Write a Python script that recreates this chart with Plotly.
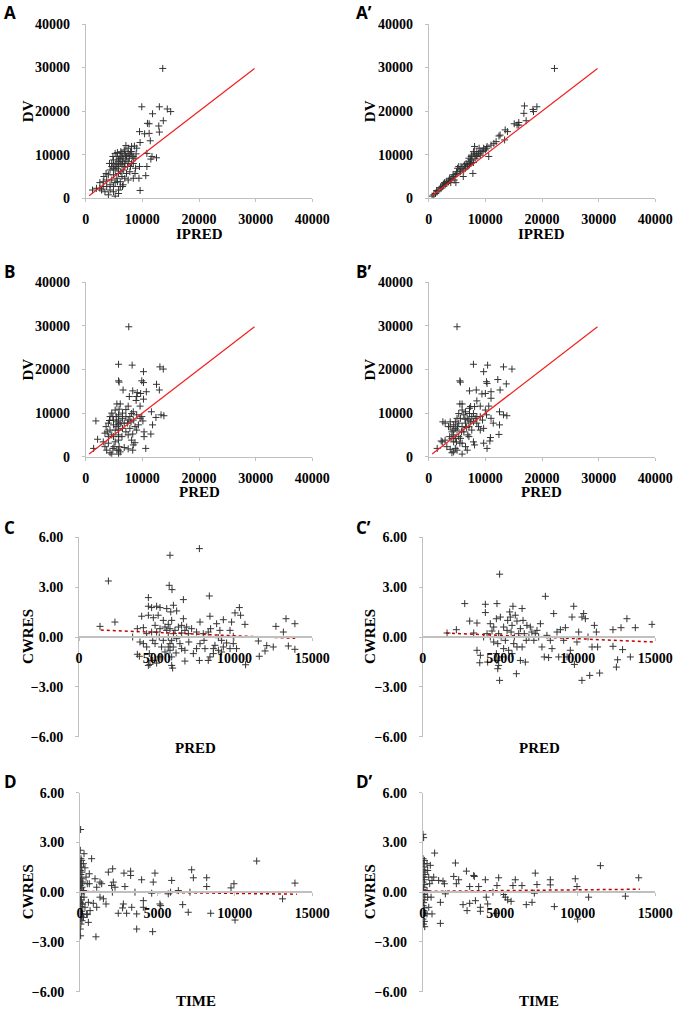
import plotly.graph_objects as go

W, H = 675, 1009

# ---------------- data ----------------
# Panel A: DV vs IPRED
A_ipred = [13600, 9900, 13000, 14400, 15000, 11800, 13700, 10900, 11200, 12900,
           13000, 9500, 10400, 11200, 11400, 9600, 8600, 9000, 7100, 8100,
           10800, 11700, 11500, 12500, 10800, 10600, 9600, 9400, 9500, 8700,
           8100, 8400, 7500, 6800, 6400, 6100, 5500, 4900, 5800, 6600,
           7200, 7800, 8100, 7500, 6900, 6100, 5200, 4600, 4300, 5200,
           5800, 6400, 6900, 7500, 6600, 7200, 7800, 5800, 4900, 4000,
           3700, 4600, 5500, 6100, 5200, 4300, 3100, 2500, 2800, 3400,
           1900, 1200, 4000, 4900, 5200, 5800, 6100, 6600, 4300, 3700,
           6400, 6900, 5200, 4600, 5500, 6200, 6800, 7400, 7900, 8400,
           7700, 7100, 6500, 5900, 5500, 4900, 5600, 4900, 3100, 2500,
           8700, 8900, 7900, 6200, 5600, 4800, 4200, 3600, 3200, 5800,
           6400, 7000, 8200, 8800, 8400, 7500, 6500, 5800]
A_dv = [29800, 21000, 21000, 20500, 19900, 19400, 17800, 17200, 17100, 16600,
        15200, 15300, 14800, 14900, 13200, 12800, 12000, 11500, 12100, 11900,
        10300, 9600, 9000, 9300, 7300, 5200, 1800, 4600, 7300, 5700,
        8000, 9600, 10300, 11100, 10300, 9600, 9600, 8800, 8800, 9200,
        9600, 9900, 10700, 11500, 10700, 8000, 7700, 7300, 6500, 6500,
        7300, 7700, 8000, 8400, 6500, 5700, 6100, 5700, 5400, 5400,
        4200, 4200, 4600, 3800, 3600, 3100, 3800, 3600, 1900, 1500,
        2300, 1900, 800, 1500, 500, 1900, 2700, 3100, 1900, 2700,
        5000, 4600, 10300, 8000, 6900, 6100, 7300, 7300, 7300, 8000,
        9200, 8800, 8400, 9200, 8000, 6900, 3800, 2700, 2700, 2300,
        9200, 10200, 10700, 10700, 10500, 9600, 8000, 5700, 5000, 8400,
        9600, 9900, 9600, 6900, 4600, 4200, 2700, 1100]

# Panel A': DV vs IPRED (final model)
A2_ipred = [22200, 16900, 16800, 18400, 19100, 18500, 17200, 15900, 15600, 15100,
            15900, 13500, 13900, 12600, 12400, 13400, 11900, 11000, 10300, 10600,
            9700, 10000, 9100, 8800, 7900, 8500, 9100, 8200, 7600, 7400,
            7100, 6800, 7800, 6500, 6200, 5900, 6100, 5600, 5000, 5100,
            4700, 4400, 4800, 4100, 3800, 3500, 3200, 2900, 2500, 2200,
            1800, 1500, 1200, 900, 600, 8500, 8400, 7400, 7100, 8100,
            7500, 6600, 6300, 5700, 5500, 4900, 4300, 3700, 3100, 2600,
            2400, 2100, 1400, 7600, 9600, 10200, 11500, 6900, 5300, 4500,
            3900, 3600, 2800, 8100, 8900, 9400, 7200, 7900]
A2_dv = [29800, 21200, 19500, 20400, 21000, 19900, 17800, 17400, 16800, 17100,
         16800, 15700, 15300, 14500, 14300, 13400, 13000, 12200, 11900, 9600,
         11500, 11100, 10700, 10300, 10700, 9600, 9900, 9200, 8800, 8000,
         8400, 7700, 5700, 6900, 6500, 6900, 5000, 6100, 5700, 6900,
         5400, 5000, 3600, 4600, 4200, 3800, 3400, 3100, 2700, 2300,
         1900, 1500, 1100, 800, 500, 10700, 9900, 8800, 9200, 10200,
         9600, 8000, 7700, 7300, 6500, 6100, 5400, 4600, 3800, 3300,
         2800, 2500, 1800, 9900, 10900, 11500, 12600, 7300, 7300, 4200,
         3600, 4200, 3600, 11900, 11500, 10700, 7700, 8200]

# Panel B: DV vs PRED
B_pred = [7600, 5800, 8200, 13100, 13700, 10200, 5800, 5900, 9900, 10200,
          12500, 13000, 6600, 8300, 9100, 9700, 10700, 9000, 10200, 8900,
          7700, 5500, 6100, 7500, 9600, 11600, 13300, 13800, 12400, 11800,
          10300, 10300, 11500, 10600, 1800, 2100, 1400, 3100, 3400, 3700,
          4300, 4600, 5800, 5900, 5800, 5800, 5800, 5800, 5800, 5800,
          5900, 5200, 4600, 4300, 4900, 4000, 3600, 4300, 3400, 4000,
          4900, 5200, 5200, 4900, 6500, 6800, 6500, 6400, 6800, 7500,
          8300, 8400, 8700, 8100, 7500, 7800, 8100, 8400, 9000, 8700,
          9000, 9300, 9600, 9900, 10100, 7100, 7800, 7100, 6500, 7100,
          6200, 5500, 5400, 4800, 4200, 3800, 4600, 5000, 5500, 6100,
          4800, 4000, 7400, 8000, 8400, 7500, 8300, 5800, 5800, 5800,
          5800, 5500]
B_dv = [29800, 21200, 21000, 20600, 20100, 19500, 17400, 17100, 17400, 17000,
        16600, 15300, 15300, 15100, 14700, 14500, 14900, 13800, 13200, 12900,
        13800, 12100, 12100, 11600, 11600, 10300, 9600, 9400, 9000, 7300,
        5700, 4600, 5200, 1900, 8200, 4000, 1900, 3400, 2300, 1500,
        900, 600, 600, 2300, 3800, 5000, 6100, 7300, 8400, 9600,
        10900, 10700, 10000, 9200, 8400, 7700, 6900, 6100, 5400, 4600,
        4600, 3400, 6100, 7300, 8800, 7700, 6500, 4600, 2100, 1800,
        1500, 2700, 3200, 3800, 8400, 9200, 9900, 10300, 9600, 6900,
        6100, 7300, 8800, 9200, 8200, 5700, 6500, 9200, 10000, 10800,
        7700, 6900, 9200, 9200, 8300, 5700, 5000, 2300, 1500, 1100,
        1900, 3100, 7700, 8000, 8400, 5000, 5200, 9200, 7700, 4600,
        1500, 8000]

# Panel B': DV vs PRED (final model)
B2_pred = [5000, 7900, 10400, 13200, 14700, 9700, 5500, 5600, 10200, 10300,
           12200, 13700, 7200, 8400, 9400, 10000, 11000, 12600, 11000, 8500,
           5500, 5900, 7400, 9100, 10600, 12500, 13200, 13800, 10000, 10200,
           11000, 11400, 12500, 12400, 10900, 10800, 10300, 9700, 8100, 7900,
           6900, 6800, 6500, 5900, 4400, 4700, 5000, 4100, 3800, 3200,
           2900, 2400, 1500, 2200, 2500, 2900, 3800, 4400, 4100, 3700,
           4400, 4700, 4100, 4900, 5300, 5000, 4700, 5300, 5600, 5300,
           5900, 6200, 6500, 6800, 6500, 5900, 6200, 7100, 7400, 7600,
           7200, 7900, 8200, 8500, 8800, 9100, 9700, 7600, 7100, 5600,
           5500, 5900, 4400, 3500, 4700, 5000, 3800, 7900, 8500, 9100,
           9500, 7100, 6700, 6400, 5800, 5100, 4300, 7200, 8100]
B2_dv = [29800, 21200, 21000, 20600, 20100, 19500, 17400, 17100, 17200, 16800,
         17700, 16700, 15100, 15300, 14400, 14500, 14900, 15300, 13400, 12800,
         12100, 12100, 11500, 11600, 11600, 10300, 9600, 9400, 10700, 9600,
         8800, 7700, 7300, 5100, 4400, 3600, 1900, 3100, 2700, 3400,
         5000, 1500, 2300, 600, 1100, 1900, 1500, 900, 1700, 2300,
         3800, 3400, 1900, 3600, 8000, 7700, 6900, 7300, 5700, 4600,
         5000, 4200, 4200, 3400, 4600, 6100, 6500, 7700, 8800, 9900,
         10700, 9600, 10300, 8800, 7700, 6900, 5700, 6900, 8000, 9200,
         9900, 9900, 8800, 7700, 6900, 6100, 6500, 6100, 4600, 4200,
         3100, 3100, 3400, 6900, 8000, 8800, 8000, 8000, 9200, 9200,
         8400, 8400, 6700, 8600, 5700, 6900, 6100, 11100, 11500]

# Panel C: CWRES vs PRED
C_pred = [1350, 1890, 2310, 7740, 5850, 5800, 5980, 6710, 8380, 4460,
          4460, 4670, 4990, 5210, 5640, 6070, 5900, 6280, 4030, 4460,
          4780, 5090, 5420, 5960, 6710, 6600, 6920, 7780, 8420, 8850,
          9280, 9810, 10310, 10390, 10030, 10670, 9060, 9710, 12660, 13140,
          13310, 13880, 11530, 12070, 12490, 13460, 13880, 11590, 11960, 10710,
          10130, 9920, 9490, 9280, 8960, 8740, 8420, 8310, 8640, 8100,
          7780, 7740, 7350, 6810, 6810, 6490, 6280, 6060, 5960, 5960,
          6020, 5850, 5850, 5740, 5640, 5420, 5310, 5210, 4990, 4740,
          4560, 4460, 4520, 4350, 4140, 3920, 3880, 3750, 3450, 3750,
          4140, 4350, 4670, 4890, 4990, 5210, 5530, 5740, 5850, 6170,
          6390, 6600, 6810, 7030, 7240, 7560, 7990, 8310, 8460, 8960,
          9170, 9920, 5160, 4890, 5530, 6240, 6600, 7060, 7560, 8040,
          8640, 9170, 9710, 4740, 5740, 5960, 6070]
C_cwres = [0.64, 3.37, 0.90, 5.32, 4.92, 3.11, 2.85, 2.25, 2.47, 2.37,
           1.85, 1.77, 1.85, 1.77, 1.71, 1.91, 1.51, 1.57, 1.25, 1.31,
           1.16, 1.31, 1.00, 1.00, 1.10, 0.70, 0.60, 0.90, 1.25, 0.80,
           1.04, 0.90, 1.77, 1.31, 1.45, 0.76, 0.40, 0.40, 0.64, 0.30,
           1.10, 0.80, -0.24, -0.52, -0.60, -0.54, -0.74, -1.16, -0.84, -1.67,
           -0.70, -0.40, -0.36, -0.60, -0.80, -0.50, -1.20, -1.41, -1.00, -0.70,
           -0.40, -1.41, -1.00, -1.45, -0.80, -0.40, -0.10, -0.60, -1.20, -1.71,
           -1.87, -0.40, -0.80, 0.00, 0.40, -0.20, -0.60, -1.20, -1.57, -1.41,
           -1.65, -1.71, -1.00, -0.60, -0.40, -0.30, -1.16, -1.04, 0.00, 0.50,
           0.56, 0.20, 0.30, 0.70, 0.30, 0.50, 0.60, 0.76, 0.50, 0.40,
           0.60, 0.24, 0.40, 0.20, 0.50, 0.30, 0.20, 0.30, 0.50, -0.04,
           -0.20, 0.04, 0.00, -0.40, -0.90, -0.96, -0.70, -0.30, -0.70, -0.20,
           -0.70, -0.90, -0.70, -0.20, -0.60, -0.20, 0.20]

# Panel C': CWRES vs PRED (final model)
C2_pred = [1570, 2170, 2710, 3030, 3290, 3500, 4040, 4040, 3500, 3680,
           3720, 3930, 4150, 4190, 4360, 4580, 4790, 4960, 4750, 5010,
           4900, 4840, 4750, 4790, 4900, 4840, 4960, 5120, 5220, 5330,
           5440, 5610, 5650, 5820, 5760, 5970, 6080, 6040, 5870, 6080,
           6190, 6300, 6410, 6470, 6300, 6620, 6680, 6720, 6940, 7260,
           7370, 7590, 7910, 7690, 7840, 8120, 8340, 8450, 8660, 8880,
           8770, 9200, 9310, 9520, 9630, 9740, 9780, 9950, 10060, 10270,
           10380, 10270, 10490, 10660, 10770, 10920, 11070, 11200, 11280, 11410,
           12270, 12270, 12490, 12570, 12790, 12890, 13170, 13390, 13710, 14790,
           5220, 5480, 5700, 5910, 6550, 6850, 7170, 4360, 4580, 5050,
           5540, 5760, 6410, 7040, 7480, 8010, 8230, 9090, 4470]
C2_cwres = [0.24, 0.44, 2.01, 0.96, 0.24, 0.84, 1.97, 1.47, -0.80, -1.55,
            -1.10, 0.00, 0.20, -1.51, 0.80, 0.60, 2.01, 3.78, 1.10, 1.20,
            0.20, -0.40, -1.00, -1.41, -1.71, -1.91, -2.61, -1.20, -0.70, -0.20,
            0.40, 1.51, 1.20, 1.85, 0.70, 1.31, 0.96, -2.21, -0.40, -0.60,
            0.20, 0.50, 1.71, 1.00, -1.41, -1.51, -0.20, 0.70, 0.60, 0.20,
            0.40, 0.80, 2.45, -0.60, -1.20, -1.24, -0.70, 1.41, 0.30, 0.44,
            -1.20, 0.56, -1.20, -0.80, 1.20, 1.85, -1.65, -0.30, 0.30, 1.20,
            1.41, -2.61, 1.10, 0.00, -2.31, -0.60, 0.70, 0.30, -0.60, -2.17,
            -0.56, 0.44, -1.81, -1.37, 0.56, -0.76, 1.10, -1.20, 0.56, 0.76,
            0.60, 1.00, 0.30, 0.00, 0.20, 0.00, -0.20, 0.00, -0.30, -0.04,
            -0.80, -1.00, -0.60, 0.30, 0.00, 0.10, -0.20, -0.20, 0.36]

# Panel D: CWRES vs TIME
D_time = [40, 20, 60, 110, 40, 90, 20, 130, 60, 0,
          110, 40, 90, 20, 130, 60, 0, 110, 40, 90,
          20, 130, 60, 0, 110, 40, 90, 20, 130, 60,
          20, 40, 320, 390, 470, 540, 430, 540, 320, 220,
          260, 170, 220, 170, 220, 260, 750, 600, 970, 600,
          1080, 860, 470, 1030, 1290, 1290, 1400, 1510, 1830, 2110,
          2150, 2040, 2260, 2090, 2470, 2800, 2750, 2840, 2900, 3010,
          3270, 3270, 3340, 3550, 3660, 3660, 3980, 4090, 4090, 4630,
          4730, 4840, 4690, 5160, 5210, 5700, 5850, 5920, 6350, 6630,
          6990, 7100, 7210, 7320, 8180, 8180, 8440, 9750, 9940, 10010,
          11410, 13080, 13880, 1680, 1080, 650]
D_cwres = [3.78, 2.53, 2.02, 1.92, 1.72, 1.52, 1.31, 1.21, 1.07, 0.91,
           0.81, 0.67, 0.51, 0.40, 0.30, 0.20, 0.10, -0.10, -0.30, -0.46,
           -0.61, -0.71, -0.87, -1.01, -1.15, -1.31, -1.45, -1.62, -1.72, -1.92,
           -2.22, -2.63, 1.47, 0.91, 0.51, -0.61, -1.31, -1.82, -0.91, 0.10,
           -0.30, -0.71, -1.52, 0.61, 1.72, 2.32, 2.02, 1.11, 0.81, 0.51,
           0.30, -0.67, -1.35, -2.69, 0.61, -0.30, 0.51, -0.40, 1.21, 1.41,
           0.61, 0.40, 0.30, 0.00, -1.27, -0.71, -0.95, 1.15, 0.34, -1.27,
           1.27, 1.01, -0.91, 0.00, -1.31, -2.22, 0.75, -0.51, -0.91, -0.06,
           0.61, 1.15, -2.38, -0.71, -0.81, -0.10, 0.00, 0.71, 0.10, -0.75,
           -1.21, 0.00, 1.35, 0.87, 0.87, 0.34, -1.27, 0.26, 0.51, -1.68,
           1.88, -0.40, 0.55, -0.71, -0.91, -1.11]

# Panel D': CWRES vs TIME (final model)
D2_time = [20, 60, 20, 110, 40, 130, 20, 90, 150, 40,
           110, 20, 130, 60, 20, 150, 90, 20, 130, 60,
           20, 110, 40, 130, 60, 20, 110, 60, 130, 280,
           320, 390, 450, 280, 320, 390, 280, 600, 490, 600,
           540, 770, 710, 1030, 1140, 1140, 1310, 1400, 1460, 2000,
           2110, 2170, 2320, 2600, 2820, 2860, 3030, 3030, 3290, 3330,
           3400, 3610, 3720, 3720, 4040, 4100, 4190, 4530, 4790, 4900,
           4750, 5220, 5330, 5480, 5700, 5820, 5970, 6400, 6680, 7050,
           7200, 7260, 7370, 8230, 8230, 8490, 9840, 9950, 9990, 10700,
           11460, 13070, 13930]
D2_cwres = [3.49, 3.29, 2.02, 1.92, 1.72, 1.52, 1.35, 1.21, 1.07, 0.91,
            0.75, 0.61, 0.46, 0.30, 0.14, 0.00, -0.14, -0.30, -0.46, -0.63,
            -0.81, -0.95, -1.11, -1.27, -1.41, -1.62, -1.76, -1.92, -2.08, 1.72,
            1.31, 0.91, 0.51, 0.10, -0.30, -0.91, -1.31, -1.31, 1.62, 0.71,
            -0.30, 2.36, 0.91, 0.71, -0.61, -1.88, 0.67, 0.51, -0.10, 0.95,
            1.76, 0.51, 0.75, -0.75, 1.27, -1.11, 0.34, -0.67, 1.01, 0.95,
            -0.51, 0.34, -0.91, -1.15, 0.75, -0.30, -0.71, 0.00, 0.40, 0.87,
            -1.27, -0.14, -0.30, -0.46, -0.55, 0.40, 0.75, 0.40, -0.75, -0.61,
            -0.06, 1.15, 0.46, 0.75, 0.44, -0.87, 0.81, 0.34, -1.62, -0.30,
            1.60, -0.24, 0.87]

# reference lines
identity_x = [600, 29800]
identity_y = [600, 29800]
C_trend_x, C_trend_y = [1400, 13900], [0.42, -0.08]
C2_trend_x, C2_trend_y = [1500, 14850], [0.24, -0.30]
D_trend_x, D_trend_y = [0, 14000], [0.05, -0.12]
D2_trend_x, D2_trend_y = [0, 14000], [0.05, 0.18]

dv_ticks = [0, 10000, 20000, 30000, 40000]
pred_ticks = [0, 5000, 10000, 15000]
cw_ticks = [-6, -3, 0, 3, 6]

# ---------------- layout helpers ----------------
AX = "#c0c0c0"
TICKFONT = dict(family="Liberation Serif, Times New Roman, serif", size=14, color="black", weight="bold")
TITLEFONT = dict(family="Liberation Serif, Times New Roman, serif", size=15, color="black", weight="bold")
LABELFONT = dict(family="Open Sans, Liberation Sans, sans-serif", size=17, color="black", weight="bold")

fig = go.Figure()
annotations = []

def add_panel(i, label, lab_px, xs, ys, lx, ly, solid, xdom_px, ydom_px, xr, xt, yr, yt, yfmt,
              xtitle, xtitle_y, ytitle, ytitle_x, centered):
    xa = "x" if i == 1 else f"x{i}"
    ya = "y" if i == 1 else f"y{i}"
    xd = [xdom_px[0] / W, xdom_px[1] / W]
    yd = [1 - ydom_px[1] / H, 1 - ydom_px[0] / H]
    fig.add_trace(go.Scatter(
        x=xs, y=ys, mode="markers", xaxis=xa, yaxis=ya, showlegend=False,
        marker=dict(symbol="cross-thin", size=5, color="#333333",
                    line=dict(width=1, color="#333333"))))
    if solid:
        line = dict(color="#f02020", width=1.2)
    else:
        line = dict(color="#c00000", width=1.5, dash="dot")
    fig.add_trace(go.Scatter(x=lx, y=ly, mode="lines", xaxis=xa, yaxis=ya,
                             showlegend=False, line=line))
    xkey = "xaxis" if i == 1 else f"xaxis{i}"
    ykey = "yaxis" if i == 1 else f"yaxis{i}"
    xaxis = dict(domain=xd, range=xr, tickvals=xt, tickformat="d", showgrid=False,
                 zeroline=False, showline=True, linecolor=AX, linewidth=1,
                 ticks="outside", ticklen=3, tickcolor=AX, tickfont=TICKFONT,
                 ticklabelstandoff=5, fixedrange=True, automargin=False)
    if centered:
        xaxis.update(anchor="free", position=(yd[0] + yd[1]) / 2, linewidth=2)
    else:
        xaxis.update(anchor=ya)
    yaxis = dict(domain=yd, range=yr, tickvals=yt, tickformat=yfmt, showgrid=False,
                 zeroline=False, showline=True, linecolor=AX, linewidth=1,
                 ticks="outside", ticklen=3, tickcolor=AX, tickfont=TICKFONT,
                 ticklabelstandoff=9, anchor=xa, fixedrange=True, automargin=False)
    fig.update_layout({xkey: xaxis, ykey: yaxis})
    # axis titles
    annotations.append(dict(text=xtitle, x=(xd[0] + xd[1]) / 2, y=1 - xtitle_y / H,
                            xref="paper", yref="paper", showarrow=False,
                            xanchor="center", yanchor="middle", font=TITLEFONT))
    annotations.append(dict(text=ytitle, x=ytitle_x / W, y=(yd[0] + yd[1]) / 2,
                            xref="paper", yref="paper", showarrow=False, textangle=-90,
                            xanchor="center", yanchor="middle", font=TITLEFONT))
    annotations.append(dict(text=label, x=lab_px[0] / W, y=1 - lab_px[1] / H,
                            xref="paper", yref="paper", showarrow=False,
                            xanchor="left", yanchor="middle", font=LABELFONT))

L = (85.7, 312.3)
R = (428.7, 655.3)
LC = (79.0, 312.3)
RC = (422.7, 655.3)
YT_L, YT_R = 28, 370

add_panel(1, "A", (2, 12), A_ipred, A_dv, identity_x, identity_y, True, L, (24, 198.3),
          [0, 40000], dv_ticks, [0, 40000], dv_ticks, "d", "IPRED", 234, "DV", YT_L, False)
add_panel(2, "A\u2019", (354, 12), A2_ipred, A2_dv, identity_x, identity_y, True, R, (24, 198.3),
          [0, 40000], dv_ticks, [0, 40000], dv_ticks, "d", "IPRED", 234, "DV", YT_R, False)
add_panel(3, "B", (2, 271), B_pred, B_dv, identity_x, identity_y, True, L, (282.3, 456.7),
          [0, 40000], dv_ticks, [0, 40000], dv_ticks, "d", "PRED", 492, "DV", YT_L, False)
add_panel(4, "B\u2019", (354, 271), B2_pred, B2_dv, identity_x, identity_y, True, R, (282.3, 456.7),
          [0, 40000], dv_ticks, [0, 40000], dv_ticks, "d", "PRED", 492, "DV", YT_R, False)
add_panel(5, "C", (2, 527), C_pred, C_cwres, C_trend_x, C_trend_y, False, LC, (537.3, 736.7),
          [0, 15000], pred_ticks, [-6, 6], cw_ticks, ".2f", "PRED", 748, "CWRES", YT_L, True)
add_panel(6, "C\u2019", (354, 527), C2_pred, C2_cwres, C2_trend_x, C2_trend_y, False, RC, (537.3, 736.7),
          [0, 15000], pred_ticks, [-6, 6], cw_ticks, ".2f", "PRED", 748, "CWRES", YT_R, True)
add_panel(7, "D", (2, 781), D_time, D_cwres, D_trend_x, D_trend_y, False, (80.0, 312.3), (792.7, 991.7),
          [0, 15000], pred_ticks, [-6, 6], cw_ticks, ".2f", "TIME", 1001, "CWRES", YT_L, True)
add_panel(8, "D\u2019", (354, 781), D2_time, D2_cwres, D2_trend_x, D2_trend_y, False, RC, (792.7, 991.7),
          [0, 15000], pred_ticks, [-6, 6], cw_ticks, ".2f", "TIME", 1001, "CWRES", YT_R, True)

fig.update_layout(width=W, height=H, margin=dict(l=0, r=0, t=0, b=0, pad=0),
                  paper_bgcolor="white", plot_bgcolor="white",
                  annotations=annotations, showlegend=False)

fig.write_html("out.html", config={"displayModeBar": False},
               post_script="document.body.style.margin='0px';document.body.style.overflow='hidden';")
